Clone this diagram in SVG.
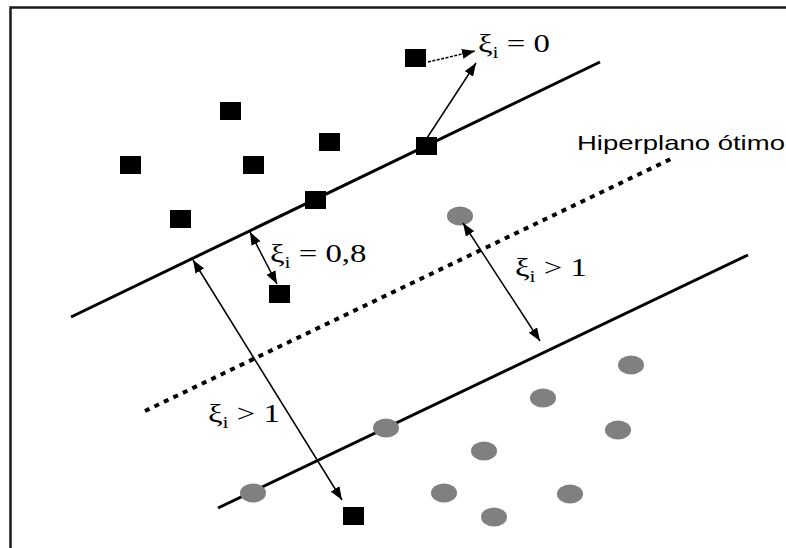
<svg xmlns="http://www.w3.org/2000/svg" width="786" height="548" viewBox="0 0 786 548">
<style>
.sq{fill:#000}
.ci{fill:#808080}
.sol{stroke:#000;stroke-width:3;fill:none;stroke-linecap:butt}
.dot{stroke:#000;stroke-width:4;fill:none;stroke-dasharray:5 5.5}
.arr{stroke:#000;stroke-width:1.5;fill:none}
.ser{font-family:"Liberation Serif","Times New Roman",serif;font-size:26px;fill:#000}
.sans{font-family:"Liberation Sans",Arial,sans-serif;font-size:21px;fill:#000}
</style>
<defs>
<marker id="ah" markerUnits="userSpaceOnUse" markerWidth="14" markerHeight="10" refX="13" refY="5" orient="auto-start-reverse">
<path d="M0,0 L13,5 L0,10 Z" fill="#000"/>
</marker>
</defs>
<rect width="786" height="548" fill="#fff"/>
<rect x="10.5" y="7.5" width="800" height="560" fill="none" stroke="#1a1a1a" stroke-width="2.5"/>

<g id="lines">
<line id="margin-upper" class="sol" x1="71" y1="317" x2="600" y2="62"/>
<line id="hyperplane" class="dot" x1="145" y1="411" x2="675" y2="157"/>
<line id="margin-lower" class="sol" x1="218" y1="508" x2="748" y2="255"/>
</g>

<g id="class-squares">
<rect class="sq" x="405" y="49" width="21" height="18"/>
<rect class="sq" x="220" y="102" width="21" height="18"/>
<rect class="sq" x="319" y="133" width="21" height="18"/>
<rect class="sq" x="416" y="137" width="21" height="18"/>
<rect class="sq" x="120" y="156" width="21" height="18"/>
<rect class="sq" x="243" y="156" width="21" height="18"/>
<rect class="sq" x="305" y="191" width="21" height="18"/>
<rect class="sq" x="170" y="210" width="21" height="18"/>
<rect class="sq" x="269" y="285" width="21" height="18"/>
<rect class="sq" x="343" y="507" width="21" height="18"/>
</g>

<g id="class-circles">
<ellipse class="ci" cx="460" cy="216" rx="13" ry="9.5"/>
<ellipse class="ci" cx="631" cy="365" rx="13" ry="9.5"/>
<ellipse class="ci" cx="543" cy="398" rx="13" ry="9.5"/>
<ellipse class="ci" cx="386" cy="428" rx="13" ry="9.5"/>
<ellipse class="ci" cx="618" cy="430" rx="13" ry="9.5"/>
<ellipse class="ci" cx="484" cy="451" rx="13" ry="9.5"/>
<ellipse class="ci" cx="253" cy="493" rx="13" ry="9.5"/>
<ellipse class="ci" cx="444" cy="493" rx="13" ry="9.5"/>
<ellipse class="ci" cx="570" cy="494" rx="13" ry="9.5"/>
<ellipse class="ci" cx="494" cy="517" rx="13" ry="9.5"/>
</g>

<g id="connectors">
<line class="arr" x1="428" y1="62" x2="475" y2="51" stroke-dasharray="3 1.5" marker-end="url(#ah)"/>
<line class="arr" x1="427" y1="138" x2="476" y2="63" marker-end="url(#ah)"/>
<line class="arr" x1="250" y1="232" x2="277" y2="284" marker-start="url(#ah)" marker-end="url(#ah)"/>
<line class="arr" x1="193" y1="260" x2="342" y2="500" marker-start="url(#ah)" marker-end="url(#ah)"/>
<line class="arr" x1="463" y1="223" x2="540" y2="341" marker-start="url(#ah)" marker-end="url(#ah)"/>
</g>

<g id="labels">
<text class="ser" transform="translate(478,52) scale(1.26,1)">ξ<tspan font-size="17" dy="6">i</tspan><tspan dy="-6"> = 0</tspan></text>
<text class="ser" transform="translate(270,262) scale(1.26,1)">ξ<tspan font-size="17" dy="6">i</tspan><tspan dy="-6"> = 0,8</tspan></text>
<text class="ser" transform="translate(208,422) scale(1.26,1)">ξ<tspan font-size="17" dy="6">i</tspan><tspan dy="-6"> &gt; 1</tspan></text>
<text class="ser" transform="translate(515,276) scale(1.26,1)">ξ<tspan font-size="17" dy="6">i</tspan><tspan dy="-6"> &gt; 1</tspan></text>
<text class="sans" transform="translate(577,150) scale(1.31,1)">Hiperplano ótimo</text>
</g>
</svg>
